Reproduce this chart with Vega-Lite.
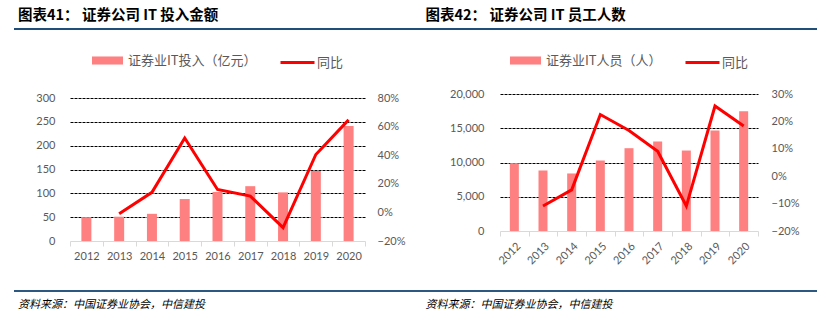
{
  "$schema": "https://vega.github.io/schema/vega-lite/v6.json",
  "background": "white",
  "padding": {"left": 13, "top": 0, "right": 0, "bottom": 0},
  "datasets": {
    "invest": [
      {"year": "2012", "amount": 50, "yoy": null},
      {"year": "2013", "amount": 51, "yoy": -0.01},
      {"year": "2014", "amount": 57, "yoy": 0.14},
      {"year": "2015", "amount": 88, "yoy": 0.52},
      {"year": "2016", "amount": 103, "yoy": 0.16},
      {"year": "2017", "amount": 115, "yoy": 0.114},
      {"year": "2018", "amount": 102, "yoy": -0.107},
      {"year": "2019", "amount": 147, "yoy": 0.405},
      {"year": "2020", "amount": 241, "yoy": 0.647}
    ],
    "staff": [
      {"year": "2012", "people": 9900, "yoy": null},
      {"year": "2013", "people": 8835, "yoy": -0.109},
      {"year": "2014", "people": 8398, "yoy": -0.05},
      {"year": "2015", "people": 10291, "yoy": 0.225},
      {"year": "2016", "people": 12087, "yoy": 0.167},
      {"year": "2017", "people": 13058, "yoy": 0.091},
      {"year": "2018", "people": 11748, "yoy": -0.109},
      {"year": "2019", "people": 14660, "yoy": 0.256},
      {"year": "2020", "people": 17476, "yoy": 0.183}
    ],
    "titles": [
      {"panel": "a", "t": "图表41： 证券公司 IT 投入金额"},
      {"panel": "b", "t": "图表42： 证券公司 IT 员工人数"}
    ],
    "sources": [
      {"panel": "a", "t": "资料来源：中国证券业协会，中信建投"},
      {"panel": "b", "t": "资料来源：中国证券业协会，中信建投"}
    ],
    "blank": [{}]
  },
  "spacing": 24,
  "vconcat": [
    {
      "spacing": 12,
      "vconcat": [
        {
          "width": 803, "height": 29,
          "data": {"name": "titles"},
          "layer": [
            {"mark": {"type": "rule", "color": "#1F4E79", "strokeWidth": 2},
             "encoding": {"y": {"datum": 0, "type": "quantitative", "scale": {"domain": [0, 1]}, "axis": null}}},
            {"mark": {"type": "text", "align": "left", "baseline": "middle", "font": "Noto Sans CJK SC", "fontWeight": "bold", "fontSize": 14.5, "color": "#000000"},
             "encoding": {
               "text": {"field": "t"},
               "x": {"field": "panel", "type": "nominal", "bandPosition": 0, "scale": {"paddingInner": 0, "paddingOuter": 0}, "axis": null},
               "y": {"datum": 0.44, "type": "quantitative", "scale": {"domain": [0, 1]}, "axis": null},
               "xOffset": {"field": "panel", "type": "nominal", "scale": {"domain": ["a", "b"], "range": [1, 13]}, "legend": null}
             }}
          ]
        },
        {
          "spacing": 0,
          "hconcat": [
            {"width": 0.01, "height": 0.01, "data": {"name": "blank"}, "mark": {"type": "rule", "opacity": 0, "strokeWidth": 0}, "encoding": {}},
            {
              "spacing": 0,
              "vconcat": [
                {"width": 0.01, "height": 0.01, "data": {"name": "blank"}, "mark": {"type": "rule", "opacity": 0, "strokeWidth": 0}, "encoding": {}},
                {
                  "width": 295, "height": 143,
                  "data": {"name": "invest"},
                  "layer": [
                    {
                      "mark": {"type": "bar", "size": 10},
                      "encoding": {
                        "x": {"field": "year", "type": "ordinal", "scale": {"paddingInner": 0, "paddingOuter": 0},
                              "axis": {"title": null, "labelAngle": 0}},
                        "y": {"field": "amount", "type": "quantitative", "scale": {"domain": [0, 300]},
                              "axis": {"title": null, "values": [0, 50, 100, 150, 200, 250, 300], "minExtent": 55, "labelPadding": 15,
                                       "grid": true, "gridColor": "#000000", "gridDash": [3, 1], "gridWidth": 1,
                                       "gridOpacity": {"condition": {"test": "datum.value === 0", "value": 0}, "value": 1}}},
                        "fill": {"datum": "证券业IT投入（亿元）", "type": "nominal", "scale": {"range": ["#FF8080"]},
                                 "legend": {"offset": 28.5, "symbolType": "M-1,-0.26H1V0.26H-1Z", "symbolSize": 961, "labelOffset": 4}}
                      }
                    },
                    {
                      "mark": {"type": "line", "strokeWidth": 3},
                      "encoding": {
                        "x": {"field": "year", "type": "ordinal"},
                        "y": {"field": "yoy", "type": "quantitative", "scale": {"domain": [-0.2, 0.8]},
                              "axis": {"title": null, "orient": "right", "format": ".0%", "values": [-0.2, 0, 0.2, 0.4, 0.6, 0.8], "grid": false, "minExtent": 50, "labelPadding": 12, "labelAlign": "left"}},
                        "stroke": {"datum": "同比", "type": "nominal", "scale": {"range": ["#FF0000"]},
                                   "legend": {"offset": 28.5, "symbolType": "stroke", "symbolSize": 1156, "symbolStrokeWidth": 3, "labelOffset": 1}}
                      }
                    }
                  ],
                  "resolve": {"scale": {"y": "independent"}}
                }
              ],
              "resolve": {"scale": {"fill": "independent", "stroke": "independent"}, "legend": {"fill": "independent", "stroke": "independent"}}
            },
            {
              "spacing": 0,
              "vconcat": [
                {"width": 0.01, "height": 0.01, "data": {"name": "blank"}, "mark": {"type": "rule", "opacity": 0, "strokeWidth": 0}, "encoding": {}},
                {
                  "width": 258, "height": 137,
                  "data": {"name": "staff"},
                  "layer": [
                    {
                      "mark": {"type": "bar", "size": 9},
                      "encoding": {
                        "x": {"field": "year", "type": "ordinal", "scale": {"paddingInner": 0, "paddingOuter": 0},
                              "axis": {"title": null, "labelAngle": -45}},
                        "y": {"field": "people", "type": "quantitative", "scale": {"domain": [0, 20000]},
                              "axis": {"title": null, "values": [0, 5000, 10000, 15000, 20000], "format": ",.0f", "minExtent": 85, "labelPadding": 16,
                                       "grid": true, "gridColor": "#000000", "gridDash": [3, 1], "gridWidth": 1,
                                       "gridOpacity": {"condition": {"test": "datum.value === 0", "value": 0}, "value": 1}}},
                        "fill": {"datum": "证券业IT人员（人）", "type": "nominal", "scale": {"range": ["#FF8080"]},
                                 "legend": {"offset": 24, "symbolType": "M-1,-0.26H1V0.26H-1Z", "symbolSize": 961, "labelOffset": 4}}
                      }
                    },
                    {
                      "mark": {"type": "line", "strokeWidth": 3},
                      "encoding": {
                        "x": {"field": "year", "type": "ordinal"},
                        "y": {"field": "yoy", "type": "quantitative", "scale": {"domain": [-0.2, 0.3]},
                              "axis": {"title": null, "orient": "right", "format": ".0%", "values": [-0.2, -0.1, 0, 0.1, 0.2, 0.3], "grid": false, "minExtent": 60, "labelPadding": 13, "labelAlign": "left"}},
                        "stroke": {"datum": "同比", "type": "nominal", "scale": {"range": ["#FF0000"]},
                                   "legend": {"offset": 24, "symbolType": "stroke", "symbolSize": 1156, "symbolStrokeWidth": 3, "labelOffset": 1}}
                      }
                    }
                  ],
                  "resolve": {"scale": {"y": "independent"}}
                }
              ],
              "resolve": {"scale": {"fill": "independent", "stroke": "independent"}, "legend": {"fill": "independent", "stroke": "independent"}}
            }
          ],
          "resolve": {"scale": {"fill": "independent", "stroke": "independent"}, "legend": {"fill": "independent", "stroke": "independent"}}
        }
      ]
    },
    {
      "width": 803, "height": 30,
      "data": {"name": "sources"},
      "layer": [
        {"mark": {"type": "rule", "color": "#1F4E79", "strokeWidth": 1.5},
         "encoding": {"y": {"datum": 1, "type": "quantitative", "scale": {"domain": [0, 1]}, "axis": null}}},
        {"mark": {"type": "text", "align": "left", "baseline": "middle", "font": "Noto Sans CJK SC", "fontStyle": "italic", "fontSize": 11, "color": "#000000"},
         "encoding": {
           "text": {"field": "t"},
           "x": {"field": "panel", "type": "nominal", "bandPosition": 0, "scale": {"paddingInner": 0, "paddingOuter": 0}, "axis": null},
           "y": {"datum": 0.55, "type": "quantitative", "scale": {"domain": [0, 1]}, "axis": null},
           "xOffset": {"field": "panel", "type": "nominal", "scale": {"domain": ["a", "b"], "range": [1, 10.5]}, "legend": null}
         }}
      ]
    }
  ],
  "config": {
    "view": {"stroke": null},
    "axis": {
      "labelFont": "Lato", "labelFontSize": 11, "labelColor": "#595959",
      "domain": false, "ticks": false, "grid": false
    },
    "axisX": {
      "domain": true, "domainColor": "#D9D9D9", "domainWidth": 1,
      "ticks": true, "tickColor": "#D9D9D9", "tickSize": 5, "tickBand": "extent", "labelPadding": 4
    },
    "legend": {
      "orient": "top", "direction": "horizontal", "title": null,
      "labelFont": "Noto Sans CJK SC", "labelFontSize": 13, "labelColor": "#595959",
      "padding": 0,
      "layout": {"top": {"anchor": "middle", "margin": 22}}
    }
  }
}
